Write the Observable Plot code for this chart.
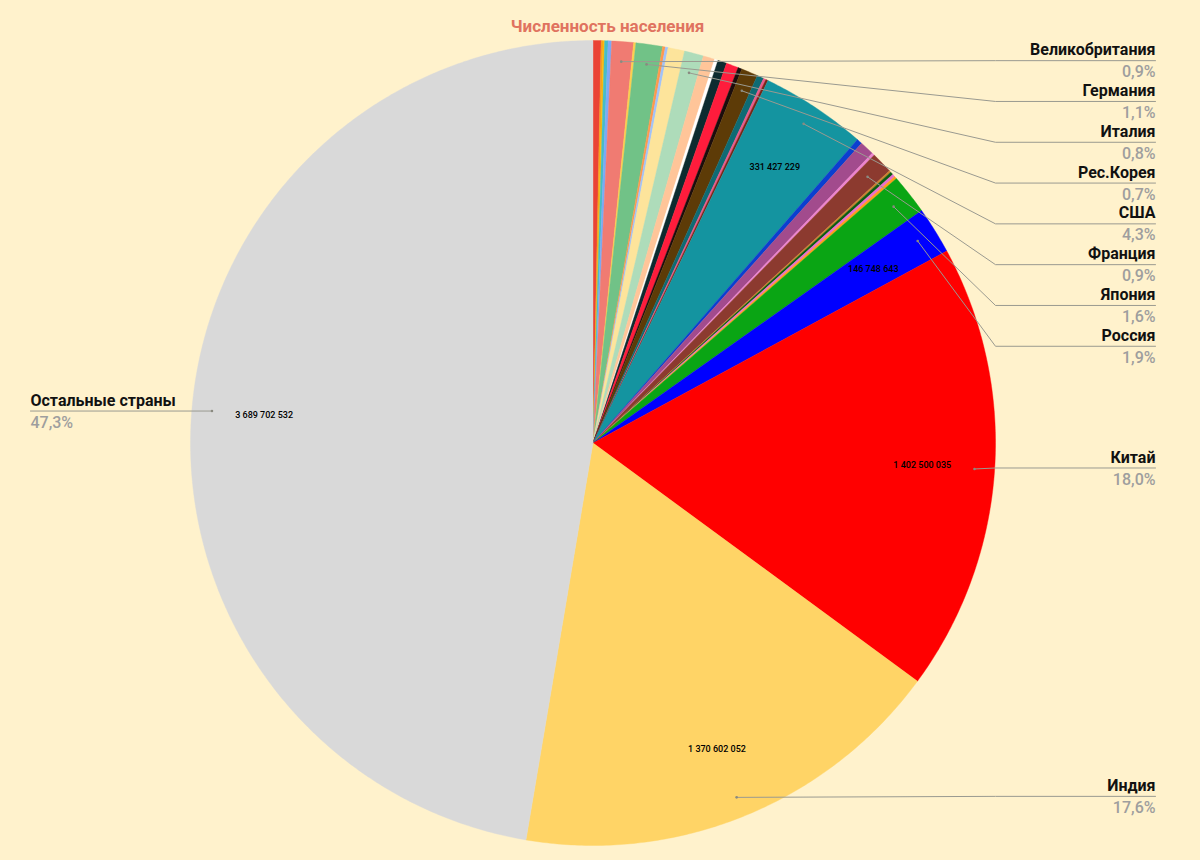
<!DOCTYPE html>
<html>
<head>
<meta charset="utf-8">
<script src="https://cdn.jsdelivr.net/npm/d3@7"></script>
<script src="https://cdn.jsdelivr.net/npm/@observablehq/plot@0.6"></script>
<style>
  html, body { margin: 0; padding: 0; background: #fff2cc; }
  #chart { width: 1200px; height: 860px; }
</style>
</head>
<body>
<div id="chart"></div>
<script>
// ---- Data (clockwise from 12 o'clock) ----
const title = "Численность населения";

const countries = [
  "s1", "s2", "s3", "s4", "s5",
  "Великобритания", "s7", "Германия", "s9", "s10", "s11",
  "Италия", "s13", "s14", "s15", "s16", "s17",
  "Рес.Корея", "s19", "s20", "s21",
  "США", "s23", "s24", "s25",
  "Франция", "s27", "s28", "s29", "s30",
  "Япония", "Россия", "Китай", "Индия", "Остальные страны"
];

const populations = [
  25000000, 6200000, 4700000, 10900000, 10900000,
  67886004, 7000000, 83166711, 8600000, 8600000, 52000000,
  59641488, 36000000, 11000000, 28000000, 38000000, 12500000,
  51780579, 21000000, 8000000, 7000000,
  331427229, 17000000, 45000000, 8500000,
  67406000, 6000000, 9000000, 9000000, 8000000,
  125836021, 146748643, 1402500035, 1370602052, 3689702532
];

const sliceColors = [
  "#ea4335", "#f5a01e", "#fbbc04", "#46bdc6", "#7baaf7",
  "#f07b72", "#fcd04f", "#71c287", "#ff994d", "#a1c2fa", "#fde49b",
  "#aedcba", "#ffc599", "#ffffff", "#0d2b30", "#ff1c3c", "#1b0d0d",
  "#5d3b07", "#0e6b74", "#ea5a8c", "#7a2518",
  "#1494a0", "#0b3fd0", "#a24b8d", "#ec83cf",
  "#8c3a2f", "#c98330", "#0b5b12", "#e86fcd", "#ff9a1f",
  "#0aa514", "#0000ff", "#ff0000", "#ffd466", "#d9d9d9"
];

// slices that get an outside label
const labeledCountries = [
  "Великобритания", "Германия", "Италия", "Рес.Корея", "США",
  "Франция", "Япония", "Россия", "Китай", "Индия", "Остальные страны"
];

// ---- Layout ----
const W = 1200, H = 860;
const cx = 592.5, cy = 442.5, R = 402.5;
const labelRight = 1155, bendX = 995, labelLeft = 30, rowGap = 40.8;

const data = countries.map((name, i) => ({name, value: populations[i], color: sliceColors[i]}));
const total = d3.sum(populations);
const arcs = d3.pie().sort(null).value(d => d.value)(data);

// slice polygons
const polyPts = [];
arcs.forEach((a, i) => {
  const key = "k" + i;
  const col = a.data.color;
  polyPts.push({key, col, x: cx, y: cy});
  const n = Math.max(2, Math.ceil((a.endAngle - a.startAngle) / (Math.PI / 360)));
  for (let j = 0; j <= n; j++) {
    const t = a.startAngle + (a.endAngle - a.startAngle) * j / n;
    polyPts.push({key, col, x: cx + R * Math.sin(t), y: cy - R * Math.cos(t)});
  }
  polyPts.push({key, col, x: cx, y: cy});
});

const fmtInt = v => d3.format(",")(v).replace(/,/g, " ");
const fmtPct = v => (v / total * 100).toFixed(1).replace(".", ",") + "%";

// inside value labels (large slices)
const valueLabels = arcs.filter(a => a.data.value / total > 0.018).map(a => {
  const m = (a.startAngle + a.endAngle) / 2;
  return {x: cx + 0.82 * R * Math.sin(m), y: cy - 0.82 * R * Math.cos(m), text: fmtInt(a.data.value)};
});

// outside labels
const outs = arcs.filter(a => labeledCountries.includes(a.data.name)).map(a => {
  const m = (a.startAngle + a.endAngle) / 2;
  return {name: a.data.name, value: a.data.value, mid: m,
          px: cx + 0.95 * R * Math.sin(m), py: cy - 0.95 * R * Math.cos(m),
          right: m < Math.PI};
});
let prev = -Infinity;
outs.filter(o => o.right).sort((a, b) => a.mid - b.mid).forEach(o => {
  o.ly = Math.max(o.py - 1, prev + rowGap);
  prev = o.ly;
});
outs.filter(o => !o.right).forEach(o => { o.ly = o.py; });
const outsR = outs.filter(o => o.right);
const outsL = outs.filter(o => !o.right);

const leaderPts = [];
outs.forEach(o => {
  leaderPts.push({name: o.name, x: o.px, y: o.py});
  if (o.right) {
    leaderPts.push({name: o.name, x: bendX, y: o.ly});
    leaderPts.push({name: o.name, x: labelRight, y: o.ly});
  } else {
    leaderPts.push({name: o.name, x: labelLeft, y: o.ly});
  }
});

const nameStyle = {fontSize: 16, fontWeight: "bold", fill: "#111"};
const pctStyle = {fontSize: 16, fontWeight: 500, fill: "#9e9e9e"};

const chart = Plot.plot({
  width: W,
  height: H,
  margin: 0,
  x: {domain: [0, W], range: [0, W], axis: null},
  y: {domain: [0, H], range: [0, H], axis: null},
  color: {type: "identity"},
  style: {background: "#fff2cc", fontFamily: "Roboto, 'Open Sans', sans-serif"},
  marks: [
    Plot.line(polyPts, {x: "x", y: "y", z: "key", fill: "col", stroke: "col", strokeWidth: 0.4, curve: "linear"}),
    Plot.line(leaderPts, {x: "x", y: "y", z: "name", stroke: "#9a9a90", strokeWidth: 1}),
    Plot.dot(outs, {x: "px", y: "py", r: 1.3, fill: "#8a8a80", stroke: null}),
    Plot.text(valueLabels, {x: "x", y: "y", text: "text", fontSize: 9, fontWeight: 500, fill: "#000"}),
    Plot.text(outsR, {x: labelRight, y: d => d.ly - 10.5, text: "name", textAnchor: "end", ...nameStyle}),
    Plot.text(outsL, {x: labelLeft, y: d => d.ly - 10.5, text: "name", textAnchor: "start", ...nameStyle}),
    Plot.text(outsR, {x: labelRight, y: d => d.ly + 11.5, text: d => fmtPct(d.value), textAnchor: "end", ...pctStyle}),
    Plot.text(outsL, {x: labelLeft, y: d => d.ly + 11.5, text: d => fmtPct(d.value), textAnchor: "start", ...pctStyle}),
    Plot.text([title], {x: 607, y: 26, text: d => d, fontSize: 17, fontWeight: "bold", fill: "#e0735f"})
  ]
});
document.getElementById("chart").appendChild(chart);
</script>
</body>
</html>
